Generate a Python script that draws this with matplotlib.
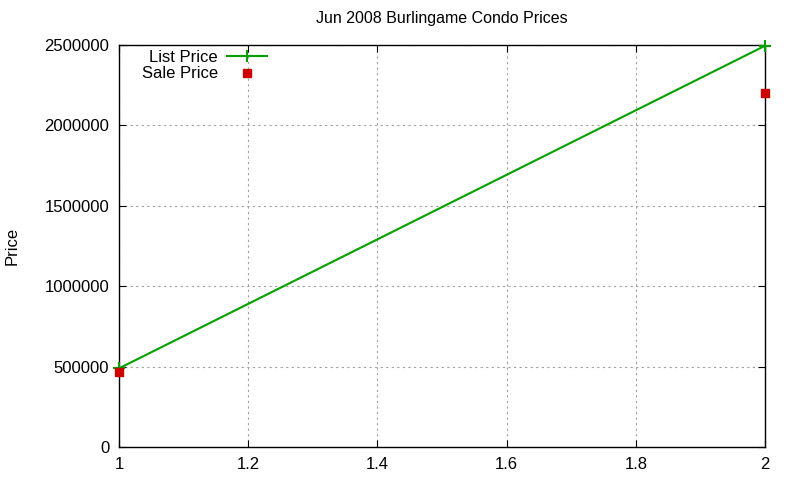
import matplotlib
matplotlib.use("Agg")
import matplotlib.pyplot as plt

plt.rcParams['font.family'] = ['Liberation Sans', 'DejaVu Sans']

x_vals = [1, 2]
list_price = [489000, 2495000]
sale_price = [465000, 2203000]
x_ticks = [1, 1.2, 1.4, 1.6, 1.8, 2]
y_ticks = [0, 500000, 1000000, 1500000, 2000000, 2500000]

fig = plt.figure(figsize=(8, 4.8), dpi=100)
ax = fig.add_axes([119/800, 33/480, (765-119)/800, (447-45)/480])

ax.plot(x_vals, list_price, color='#00a000', lw=1.5, marker='+', ms=9, mew=1.5,
        label='List Price', clip_on=False, zorder=3)
ax.plot(x_vals, sale_price, color='#cc0000', lw=0, marker='s', ms=6,
        label='Sale Price', clip_on=False, zorder=4)

ax.set_xlim(1, 2)
ax.set_ylim(0, 2500000)
ax.set_xticks(x_ticks)
ax.set_xticklabels(['1', '1.2', '1.4', '1.6', '1.8', '2'])
ax.set_yticks(y_ticks)
ax.set_yticklabels([str(v) for v in y_ticks])
ax.grid(True, color='#a0a0a0', linestyle=(0, (2, 3)), lw=0.8)
ax.tick_params(direction='in', top=True, right=True, length=5, labelsize=12, pad=7)
for s in ax.spines.values():
    s.set_linewidth(1)
    s.set_color('black')

ax.set_title('Jun 2008 Burlingame Condo Prices', fontsize=11.5, pad=16)
ax.set_ylabel('Price', fontsize=12)
ax.yaxis.set_label_coords(-0.154, 0.5)

leg = ax.legend(loc='upper right', bbox_to_anchor=((267-119)/646, 0.987), markerfirst=False,
                frameon=False, fontsize=12, handlelength=2.4, borderaxespad=0, borderpad=0,
                labelspacing=0.07, handletextpad=0.55)
for t in leg.get_texts():
    t.set_ha('right')

fig.savefig('out.png', dpi=100)
